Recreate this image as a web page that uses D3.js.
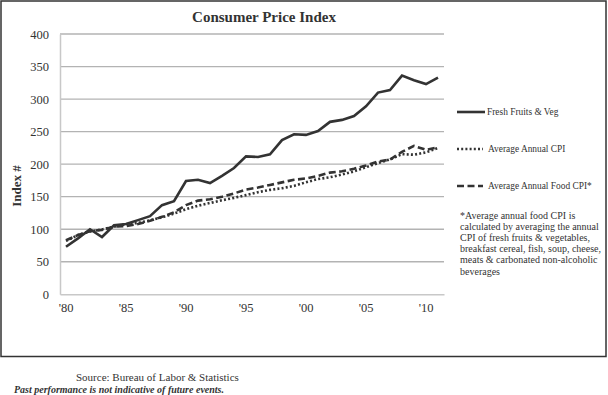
<!DOCTYPE html>
<html>
<head>
<meta charset="utf-8">
<script src="https://cdn.jsdelivr.net/npm/d3@7"></script>
<style>
  body { margin: 0; background: #fff; }
  text { font-family: "Liberation Serif", "Times New Roman", serif; fill: #333; }
</style>
</head>
<body>
<div id="chart"></div>
<script>
// data
const years = d3.range(1980, 2012);
const freshVeg = [73, 86, 100, 88, 106, 108, 114, 120, 137, 143, 174, 176, 171, 182, 194, 212, 211, 215, 237, 246, 245, 251, 265, 268, 274, 289, 310, 314, 336, 329, 323, 333];
const avgCpi = [82, 91, 96.5, 99.6, 103.9, 107.6, 109.6, 113.6, 118.3, 124, 130.7, 136.2, 140.3, 144.5, 148.2, 152.4, 156.9, 160.5, 163, 166.6, 172.2, 177.1, 179.9, 184, 188.9, 195.3, 201.6, 207.3, 215.3, 214.5, 218.1, 224.9];
const foodCpi = [83, 91, 97, 99, 104, 105, 108, 113, 119, 126, 137, 144, 146, 150, 155, 161, 164, 168, 172, 176, 178, 182, 187, 189, 193, 198, 204, 207, 219, 228, 222, 226];
const yTicks = [0, 50, 100, 150, 200, 250, 300, 350, 400];
const xLabelYears = [1980, 1985, 1990, 1995, 2000, 2005, 2010];

const seriesList = [
  { name: "Fresh Fruits & Veg", values: freshVeg, dash: null },
  { name: "Average Annual CPI", values: avgCpi, dash: "2,2.2" },
  { name: "Average Annual Food CPI*", values: foodCpi, dash: "7,3.5" }
];
const footnote = [
  "*Average annual food CPI is",
  "calculated by averaging the annual",
  "CPI of fresh fruits & vegetables,",
  "breakfast cereal, fish, soup, cheese,",
  "meats & carbonated non-alcoholic",
  "beverages"
];

const W = 608, H = 395;
const plot = { left: 60, right: 444, top: 34, bottom: 294.3 };

const svg = d3.select("#chart").append("svg")
  .attr("width", W).attr("height", H);

// outer frame
svg.append("rect")
  .attr("x", 1).attr("y", 1).attr("width", 605).attr("height", 355.5)
  .attr("fill", "none").attr("stroke", "#333").attr("stroke-width", 1.5);

const x = d3.scaleBand().domain(years).range([plot.left, plot.right]);
const xc = d => x(d) + x.bandwidth() / 2;
const y = d3.scaleLinear().domain([0, 400]).range([plot.bottom, plot.top]);

// gridlines
svg.append("g").selectAll("line").data(yTicks.filter(d => d > 0)).join("line")
  .attr("x1", plot.left).attr("x2", plot.right)
  .attr("y1", d => y(d)).attr("y2", d => y(d))
  .attr("stroke", "#b3b3b3").attr("stroke-width", 1.3);

// y axis
const yAxis = svg.append("g")
  .attr("transform", `translate(${plot.left},0)`)
  .call(d3.axisLeft(y).tickValues(yTicks).tickSize(0).tickPadding(11));
yAxis.select(".domain").attr("stroke", "#c8c8c8").attr("stroke-width", 1.5);
yAxis.selectAll("text").style("font-size", "12.5px")
  .style("font-family", "Liberation Serif").attr("fill", "#333");

// x axis
const xAxis = svg.append("g")
  .attr("transform", `translate(0,${plot.bottom})`)
  .call(d3.axisBottom(x).tickValues(xLabelYears).tickSize(0).tickPadding(9)
    .tickFormat(d => "'" + String(d).slice(2)));
xAxis.select(".domain").attr("stroke", "#c8c8c8").attr("stroke-width", 1.5);
xAxis.selectAll("text").style("font-size", "12.5px")
  .style("font-family", "Liberation Serif").attr("fill", "#333");

// lines
const line = d3.line().x((d, i) => xc(years[i])).y(d => y(d));
seriesList.forEach(s => {
  svg.append("path").datum(s.values)
    .attr("d", line)
    .attr("fill", "none")
    .attr("stroke", "#333")
    .attr("stroke-width", 2.6)
    .attr("stroke-dasharray", s.dash);
});

// title
svg.append("text")
  .attr("x", 264).attr("y", 22)
  .attr("text-anchor", "middle")
  .style("font-size", "15px").style("font-weight", "bold")
  .text("Consumer Price Index");

// y title
svg.append("text")
  .attr("transform", "translate(21,186) rotate(-90)")
  .attr("text-anchor", "middle")
  .style("font-size", "13px").style("font-weight", "bold")
  .text("Index #");

// legend
const legendY = [112, 149, 186];
const legend = svg.append("g").selectAll("g").data(seriesList).join("g")
  .attr("transform", (d, i) => `translate(457,${legendY[i]})`);
legend.append("line")
  .attr("x1", 0).attr("x2", (d, i) => i === 0 ? 28 : 26)
  .attr("stroke", "#333").attr("stroke-width", 2.6)
  .attr("stroke-dasharray", d => d.dash);
legend.append("text")
  .attr("x", (d, i) => i === 0 ? 30 : 31).attr("y", 3.3)
  .style("font-size", "9.4px")
  .text(d => d.name);

// footnote
svg.append("g").selectAll("text").data(footnote).join("text")
  .attr("x", 460).attr("y", (d, i) => 218.5 + i * 11.2)
  .style("font-size", "10px")
  .text(d => d);

// source lines
svg.append("text")
  .attr("x", 76).attr("y", 381)
  .style("font-size", "11px")
  .text("Source: Bureau of Labor & Statistics");
svg.append("text")
  .attr("x", 14).attr("y", 393)
  .style("font-size", "10px").style("font-weight", "bold").style("font-style", "italic")
  .attr("fill", "#000")
  .text("Past performance is not indicative of future events.");
</script>
</body>
</html>
